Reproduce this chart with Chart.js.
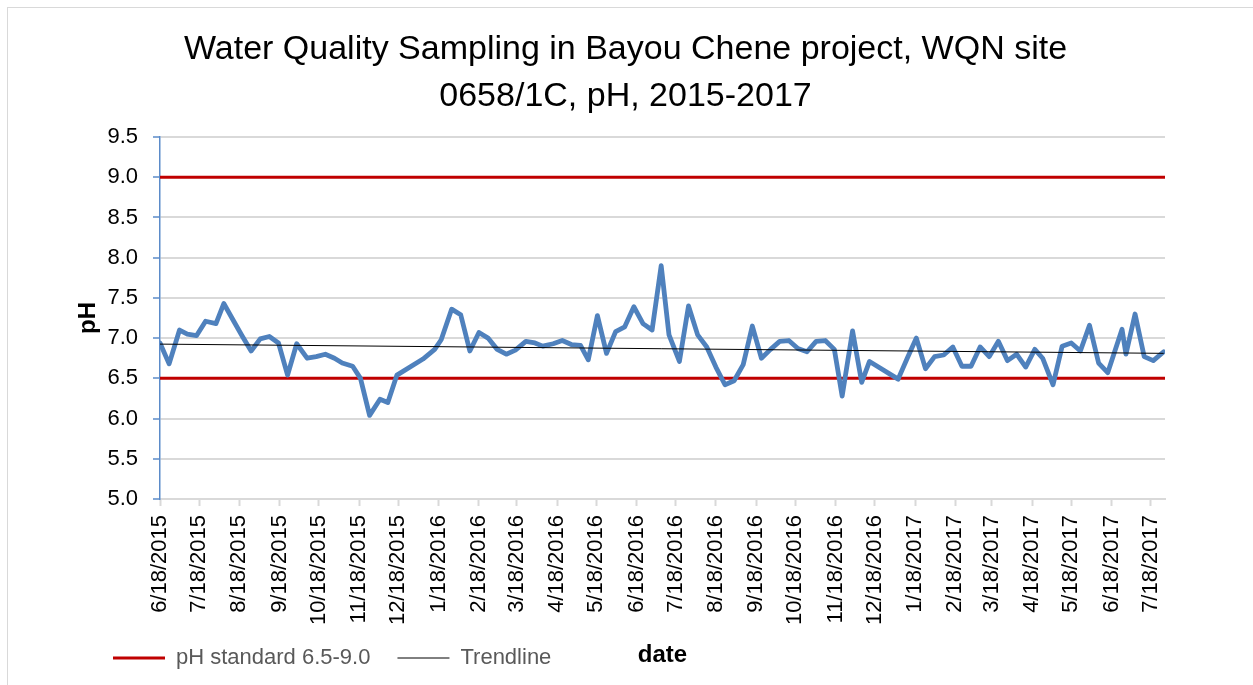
<!DOCTYPE html>
<html>
<head>
<meta charset="utf-8">
<title>Bayou Chene pH 2015-2017</title>
<script src="https://cdn.jsdelivr.net/npm/chart.js@4.4.1/dist/chart.umd.min.js"></script>
<style>
  html, body { margin: 0; padding: 0; background: #fff; overflow: hidden; }
  #frame {
    position: absolute; left: 7px; top: 7px;
    width: 1300px; height: 720px;
    border: 1px solid #d9d9d9;
  }
  #chart { position: absolute; left: 0; top: 0; }
</style>
</head>
<body>
<div id="frame"></div>
<canvas id="chart" width="1253" height="685"></canvas>
<script>
/**
 * Bayou Chene WQN site 0658/1C - pH samples 2015-2017
 * x values are days counted from the first sample (6/18/2015)
 */

const START_DATE = Date.UTC(2015, 5, 18);
const AXIS_END_DAY = 772;

// sampling days (days since 6/18/2015)
const sampleDay = [
  0, 7, 15, 21, 28, 35, 43, 49, 57, 63, 70, 77, 84, 91, 98, 105, 113, 120, 127, 134,
  140, 148, 154, 161, 169, 175, 182, 202, 211, 216, 224, 231, 238, 245, 252, 259, 266, 273, 281, 288,
  294, 302, 309, 316, 323, 329, 336, 343, 350, 357, 364, 371, 378, 385, 391, 399, 406, 413, 420, 427,
  434, 441, 448, 455, 462, 469, 476, 483, 490, 497, 504, 511, 518, 524, 532, 539, 545, 567, 574, 581,
  588, 595, 602, 609, 616, 623, 630, 637, 644, 651, 658, 665, 672, 678, 686, 693, 700, 707, 714, 721,
  728, 739, 742, 749, 756, 763, 771
];

// measured pH for each sampling day
const phValue = [
  6.94, 6.68, 7.10, 7.05, 7.03, 7.21, 7.18, 7.43, 7.20, 7.03, 6.84, 6.99, 7.02, 6.94, 6.54, 6.93, 6.75, 6.77, 6.80, 6.75,
  6.69, 6.65, 6.50, 6.04, 6.24, 6.20, 6.54, 6.74, 6.86, 6.98, 7.36, 7.29, 6.84, 7.07, 7.00, 6.86, 6.80, 6.85, 6.96, 6.94,
  6.90, 6.93, 6.97, 6.92, 6.91, 6.73, 7.28, 6.81, 7.08, 7.14, 7.39, 7.18, 7.10, 7.90, 7.04, 6.71, 7.40, 7.04, 6.89, 6.64,
  6.42, 6.47, 6.67, 7.15, 6.75, 6.86, 6.96, 6.97, 6.87, 6.83, 6.96, 6.97, 6.86, 6.28, 7.09, 6.45, 6.71, 6.49, 6.75, 7.00,
  6.62, 6.77, 6.79, 6.89, 6.65, 6.65, 6.89, 6.77, 6.96, 6.72, 6.80, 6.64, 6.86, 6.75, 6.42, 6.90, 6.94, 6.84, 7.16, 6.69,
  6.57, 7.11, 6.80, 7.30, 6.77, 6.72, 6.83
];

// pH standard band (lower / upper limit)
const phStandard = [6.5, 9.0];

// x axis tick labels (monthly)
const tickLabels = [
  '6/18/2015', '7/18/2015', '8/18/2015', '9/18/2015', '10/18/2015', '11/18/2015', '12/18/2015',
  '1/18/2016', '2/18/2016', '3/18/2016', '4/18/2016', '5/18/2016', '6/18/2016', '7/18/2016',
  '8/18/2016', '9/18/2016', '10/18/2016', '11/18/2016', '12/18/2016',
  '1/18/2017', '2/18/2017', '3/18/2017', '4/18/2017', '5/18/2017', '6/18/2017', '7/18/2017'
];

const FONT = "'Liberation Sans', Arial, sans-serif";

/**
 * Turn an M/D/YYYY label into days since the start date
 */
function labelToDay(label) {
  const [m, d, y] = label.split('/').map(Number);
  return Math.round((Date.UTC(y, m - 1, d) - START_DATE) / 86400000);
}

const tickDays = tickLabels.map(labelToDay);

/**
 * Least squares linear trend over the samples (Excel style trendline)
 */
function linearTrend(xs, ys) {
  const n = xs.length;
  const mx = xs.reduce((s, v) => s + v, 0) / n;
  const my = ys.reduce((s, v) => s + v, 0) / n;
  let sxy = 0;
  let sxx = 0;
  for (let i = 0; i < n; i++) {
    sxy += (xs[i] - mx) * (ys[i] - my);
    sxx += (xs[i] - mx) * (xs[i] - mx);
  }
  const slope = sxy / sxx;
  return (x) => my + slope * (x - mx);
}

const trend = linearTrend(sampleDay, phValue);
const firstDay = sampleDay[0];
const lastDay = sampleDay[sampleDay.length - 1];

const phPoints = sampleDay.map((d, i) => ({ x: d, y: phValue[i] }));
const trendPoints = [firstDay, lastDay].map(d => ({ x: d, y: trend(d) }));
const limitPoints = (v) => [{ x: 0, y: v }, { x: AXIS_END_DAY, y: v }];

const ctx = document.getElementById('chart').getContext('2d');

new Chart(ctx, {
  type: 'line',
  data: {
    datasets: [
      {
        label: 'Trendline',
        data: trendPoints,
        borderColor: '#000000',
        borderWidth: 1,
        pointRadius: 0,
        order: 0,
      },
      {
        label: 'pH',
        data: phPoints,
        borderColor: '#4f81bd',
        borderWidth: 4.8,
        borderJoinStyle: 'round',
        borderCapStyle: 'round',
        pointRadius: 0,
        tension: 0,
        order: 1,
      },
      {
        label: 'pH standard 6.5-9.0',
        data: limitPoints(phStandard[1]),
        borderColor: '#c00000',
        borderWidth: 3,
        pointRadius: 0,
        order: 2,
      },
      {
        label: 'pH standard low',
        data: limitPoints(phStandard[0]),
        borderColor: '#c00000',
        borderWidth: 3,
        pointRadius: 0,
        order: 2,
      },
    ],
  },
  options: {
    responsive: false,
    animation: false,
    layout: { padding: { left: 86, right: 88, top: 0, bottom: 6 } },
    plugins: {
      tooltip: { enabled: false },
      title: {
        display: true,
        text: ['Water Quality Sampling in Bayou Chene project, WQN site', '0658/1C, pH, 2015-2017'],
        color: '#000000',
        font: { family: FONT, size: 34, weight: 'normal', lineHeight: 47 / 34 },
        padding: { top: 26.5, bottom: 16.5 },
      },
      legend: {
        position: 'bottom',
        align: 'start',
        labels: {
          usePointStyle: true,
          pointStyleWidth: 52,
          padding: 27,
          color: '#595959',
          font: { family: FONT, size: 22 },
          generateLabels: () => [
            { text: 'pH standard 6.5-9.0', strokeStyle: '#c00000', fillStyle: '#c00000', lineWidth: 3, pointStyle: 'line', hidden: false, fontColor: '#595959', datasetIndex: 2 },
            { text: 'Trendline', strokeStyle: '#000000', fillStyle: '#000000', lineWidth: 1, pointStyle: 'line', hidden: false, fontColor: '#595959', datasetIndex: 0 },
          ],
        },
      },
    },
    scales: {
      x: {
        type: 'linear',
        min: 0,
        max: AXIS_END_DAY,
        afterBuildTicks: (scale) => {
          scale.ticks = tickDays.map(v => ({ value: v }));
        },
        afterFit: (scale) => {
          scale.height = 121;
          // long rotated labels run a little past the box, don't clip them
          scale._computeLabelArea = () => undefined;
        },
        ticks: {
          autoSkip: false,
          minRotation: 90,
          maxRotation: 90,
          padding: 9,
          color: '#000000',
          font: { family: FONT, size: 22 },
          callback: (value, index) => tickLabels[index],
        },
        grid: {
          drawOnChartArea: false,
          drawTicks: true,
          tickLength: 7,
          tickColor: '#d9d9d9',
          tickWidth: 2,
        },
        border: { color: '#d9d9d9', width: 2 },
        title: {
          display: true,
          text: 'date',
          color: '#000000',
          font: { family: FONT, size: 24, weight: 'bold', lineHeight: 1.2 },
          padding: { top: 0, bottom: -49.4 },
        },
      },
      y: {
        min: 5,
        max: 9.5,
        afterFit: (scale) => { scale.width = 74; },
        ticks: {
          stepSize: 0.5,
          padding: 15,
          color: '#000000',
          font: { family: FONT, size: 22 },
          callback: (value) => Number(value).toFixed(1),
        },
        grid: {
          color: '#d9d9d9',
          lineWidth: 2,
          tickLength: 7,
          tickColor: '#5b8bc9',
          tickWidth: 1.5,
        },
        border: { color: '#5b8bc9', width: 1.5 },
        title: {
          display: true,
          text: 'pH',
          color: '#000000',
          font: { family: FONT, size: 24, weight: 'bold', lineHeight: 1.2 },
          padding: { top: -12.4, bottom: 0 },
        },
      },
    },
  },
});
</script>
</body>
</html>
